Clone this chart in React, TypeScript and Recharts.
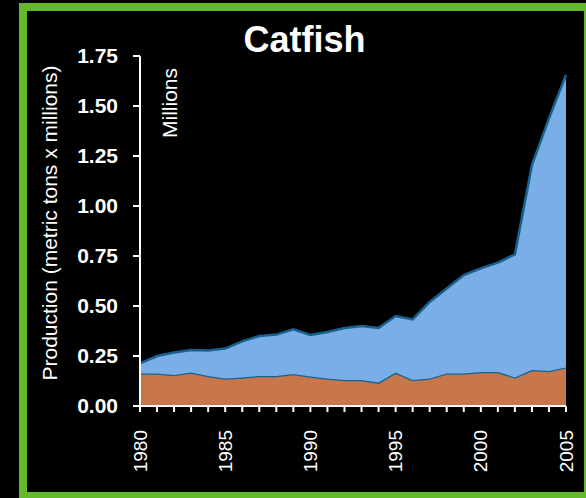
import React from 'react';
import { AreaChart, Area, XAxis, YAxis } from 'recharts';

const YEARS = [
    1980, 1981, 1982, 1983, 1984, 1985, 1986, 1987, 1988, 1989,
    1990, 1991, 1992, 1993, 1994, 1995, 1996, 1997, 1998, 1999,
    2000, 2001, 2002, 2003, 2004, 2005,
];
const LOWER = [
    0.163, 0.163, 0.155, 0.167, 0.150, 0.138, 0.143, 0.150, 0.150, 0.160,
    0.147, 0.137, 0.130, 0.130, 0.117, 0.167, 0.130, 0.137, 0.163, 0.163,
    0.170, 0.170, 0.143, 0.180, 0.175, 0.193,
];
const UPPER = [
    0.050, 0.087, 0.112, 0.113, 0.127, 0.149, 0.180, 0.200, 0.207, 0.223,
    0.208, 0.233, 0.260, 0.270, 0.273, 0.283, 0.303, 0.383, 0.425, 0.492,
    0.518, 0.547, 0.615, 1.025, 1.263, 1.462,
];
const Y_TICKS = [0, 0.25, 0.5, 0.75, 1, 1.25, 1.5, 1.75];
const LABEL_EVERY = 5;

const data = YEARS.map((year, i) => ({ year, lower: LOWER[i], upper: UPPER[i] }));

const GREEN = '#63b92b';
const ORANGE = '#c8774b';
const BLUE = '#7aaee6';
const EDGE = '#15628f';
const FONT = '"Liberation Sans", Arial, sans-serif';

const YearTick = ({ x, y, payload }: any) => {
    if (payload.value % LABEL_EVERY !== 0) return <g />;
    return (
        <g transform={`translate(${x},${y})`}>
            <text
                x={-16}
                y={0}
                dy="0.35em"
                transform="rotate(-90)"
                textAnchor="end"
                fill="#fff"
                fontSize={19}
                fontFamily={FONT}
            >
                {payload.value}
            </text>
        </g>
    );
};

const App = () => {
    return (
        <div style={{ position: 'fixed', left: 0, top: 0, width: 586, height: 498, background: '#000', overflow: 'hidden' }}>
            <div style={{
                position: 'absolute', left: 19, top: 3, width: 573, height: 497,
                border: `8px solid ${GREEN}`, boxSizing: 'border-box',
            }} />
            <div style={{
                position: 'absolute', left: 0, top: 22, width: 609, textAlign: 'center',
                color: '#fff', fontFamily: FONT, fontWeight: 'bold', fontSize: 36, lineHeight: '36px',
            }}>
                Catfish
            </div>
            <div style={{ position: 'absolute', left: 0, top: 0 }}>
                <AreaChart width={586} height={498} data={data} margin={{ top: 56, right: 20, left: 0, bottom: 0 }}>
                    <Area
                        type="linear"
                        dataKey="lower"
                        stackId="a"
                        fill={ORANGE}
                        fillOpacity={1}
                        stroke={EDGE}
                        strokeWidth={2.5}
                        isAnimationActive={false}
                    />
                    <Area
                        type="linear"
                        dataKey="upper"
                        stackId="a"
                        fill={BLUE}
                        fillOpacity={1}
                        stroke={EDGE}
                        strokeWidth={2.5}
                        isAnimationActive={false}
                    />
                    <XAxis
                        dataKey="year"
                        interval={0}
                        height={92}
                        stroke="#fff"
                        strokeWidth={2}
                        tickSize={6}
                        tickLine={{ stroke: '#fff', strokeWidth: 2 }}
                        tick={<YearTick />}
                    />
                    <YAxis
                        width={140}
                        domain={[0, 1.75]}
                        ticks={Y_TICKS}
                        stroke="#fff"
                        strokeWidth={2}
                        tickSize={7}
                        tickMargin={15}
                        tickLine={{ stroke: '#fff', strokeWidth: 2 }}
                        tickFormatter={(v: number) => v.toFixed(2)}
                        tick={{ fill: '#fff', fontSize: 21, fontWeight: 'bold', fontFamily: FONT }}
                        label={{
                            content: () => (
                                <text
                                    x={57}
                                    y={223}
                                    transform="rotate(-90 57 223)"
                                    textAnchor="middle"
                                    fill="#fff"
                                    fontSize={21}
                                    fontFamily={FONT}
                                >
                                    Production (metric tons x millions)
                                </text>
                            ),
                        }}
                    />
                    <text
                        x={177}
                        y={103}
                        transform="rotate(-90 177 103)"
                        textAnchor="middle"
                        fill="#fff"
                        fontSize={21}
                        fontFamily={FONT}
                    >
                        Millions
                    </text>
                </AreaChart>
            </div>
        </div>
    );
};

export default App;
